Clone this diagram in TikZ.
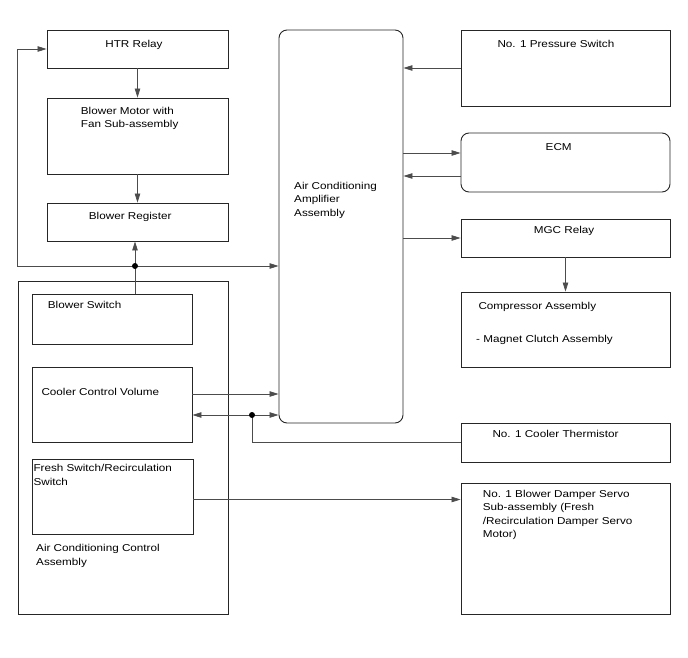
\documentclass[tikz,border=0pt]{standalone}
\usepackage{fontspec}
\setmainfont{Liberation Sans}[FakeStretch=1.17]
\usetikzlibrary{arrows.meta, positioning, calc}

\begin{document}
\begin{tikzpicture}[>={Triangle[length=9pt, width=5.5pt]}, x=1pt, y=-1pt,
    font=\fontsize{10}{13.5}\selectfont,
    box/.style={draw=black!85, line width=0.9pt, inner sep=0pt, minimum width=#1},
    box/.default=209pt,
    wire/.style={gray!60!black, line width=0.7pt},
    txt/.style={inner sep=0pt, align=left},
    dot/.style={circle, fill=black, inner sep=0pt, minimum size=6pt}]
  \useasboundingbox (0,0) rectangle (688,658);

  % Left column
  \node[box=181pt, minimum height=38pt] (htr) at (137.5,49) {};
  \node[box=181pt, minimum height=76pt] (motor) at (137.5,136) {};
  \node[box=181pt, minimum height=38pt] (reg) at (137.5,222) {};

  % Control assembly
  \node[box=210pt, minimum height=333pt] (acc) at (123,447.5) {};
  \node[box=160pt, minimum height=50pt] (bsw) at (112,319) {};
  \node[box=160pt, minimum height=75pt] (ccv) at (112,404.5) {};
  \node[box=161pt, minimum height=75pt] (fsw) at (112.5,496.5) {};

  % Amplifier
  \node[box=124pt, minimum height=393pt, rounded corners=8pt] (amp) at (341,226.5) {};

  % Right column
  \node[box, minimum height=76pt] (pres) at (565.5,68) {};
  \node[box, minimum height=59pt, rounded corners=8pt] (ecm) at (565.5,162.5) {};
  \node[box, minimum height=38pt] (mgc) at (565.5,238) {};
  \node[box, minimum height=75pt] (comp) at (565.5,329.5) {};
  \node[box, minimum height=39pt] (therm) at (565.5,442.5) {};
  \node[box, minimum height=131pt] (damp) at (565.5,548.5) {};

  % Labels
  \node[txt, anchor=base] (htrT) at (134,47.5) {HTR Relay};
  \node[txt, anchor=north west] (motorT) at (80.7,106.8) {Blower Motor with\\Fan Sub-assembly};
  \node[txt, anchor=base west] (regT) at (88.7,219) {Blower Register};
  \node[txt, anchor=base west] (bswT) at (47.7,308) {Blower Switch};
  \node[txt, anchor=base west] (ccvT) at (41.3,395) {Cooler Control Volume};
  \node[txt, anchor=north west] (fswT) at (33.3,464.4) {Fresh Switch/Recirculation\\Switch};
  \node[txt, anchor=north west] (accT) at (36,544.4) {Air Conditioning Control\\Assembly};
  \node[txt, anchor=north west] (ampT) at (294,182) {Air Conditioning\\Amplifier\\Assembly};
  \node[txt, anchor=base west] (presT) at (497.3,47.3) {No. 1 Pressure Switch};
  \node[txt, anchor=base] (ecmT) at (558.7,150.7) {ECM};
  \node[txt, anchor=base] (mgcT) at (564,233.3) {MGC Relay};
  \node[txt, anchor=base west] (compT) at (478.3,309) {Compressor Assembly};
  \node[txt, anchor=base west] (clT) at (476,342.7) {- Magnet Clutch Assembly};
  \node[txt, anchor=base west] (thermT) at (492.3,437.3) {No. 1 Cooler Thermistor};
  \node[txt, anchor=north west] (dampT) at (482.7,490)
    {No. 1 Blower Damper Servo\\Sub-assembly (Fresh\\/Recirculation Damper Servo\\Motor)};

  % Junctions
  \coordinate (j1) at (135,266);
  \coordinate (lft) at (17,266);
  \coordinate (j2) at (252,415);
  \coordinate (cv) at (252,394);

  % Blower chain
  \draw[wire, ->] (htr.south) -- (motor.north);
  \draw[wire, ->] (motor.south) -- (reg.north);
  \draw[wire, ->] (bsw.north -| j1) -- (reg.south -| j1);
  \draw[wire, ->] (j1) -- (lft) |- (htr.west);
  \draw[wire, ->] (j1) -- (amp.west |- j1);
  \node[dot] (d1) at (j1) {};

  % Cooler control volume and thermistor
  \draw[wire, ->] (ccv.east |- cv) -- (amp.west |- cv);
  \draw[wire, <->] (ccv.east |- j2) -- (amp.west |- j2);
  \draw[wire] (j2) |- (therm.west);
  \node[dot] (d2) at (j2) {};

  % Fresh/recirculation
  \draw[wire, ->] ([yshift=-3pt]fsw.east) -- ([yshift=-3pt]fsw.east -| damp.west);

  % Right side
  \draw[wire, ->] (pres.west) -- (pres.west -| amp.east);
  \draw[wire, ->] ([yshift=9.5pt]ecm.west -| amp.east) -- ([yshift=9.5pt]ecm.west);
  \draw[wire, <-] ([yshift=-13.5pt]ecm.west -| amp.east) -- ([yshift=-13.5pt]ecm.west);
  \draw[wire, ->] (mgc.west -| amp.east) -- (mgc.west);
  \draw[wire, ->] (mgc.south) -- (comp.north);
\end{tikzpicture}
\end{document}
